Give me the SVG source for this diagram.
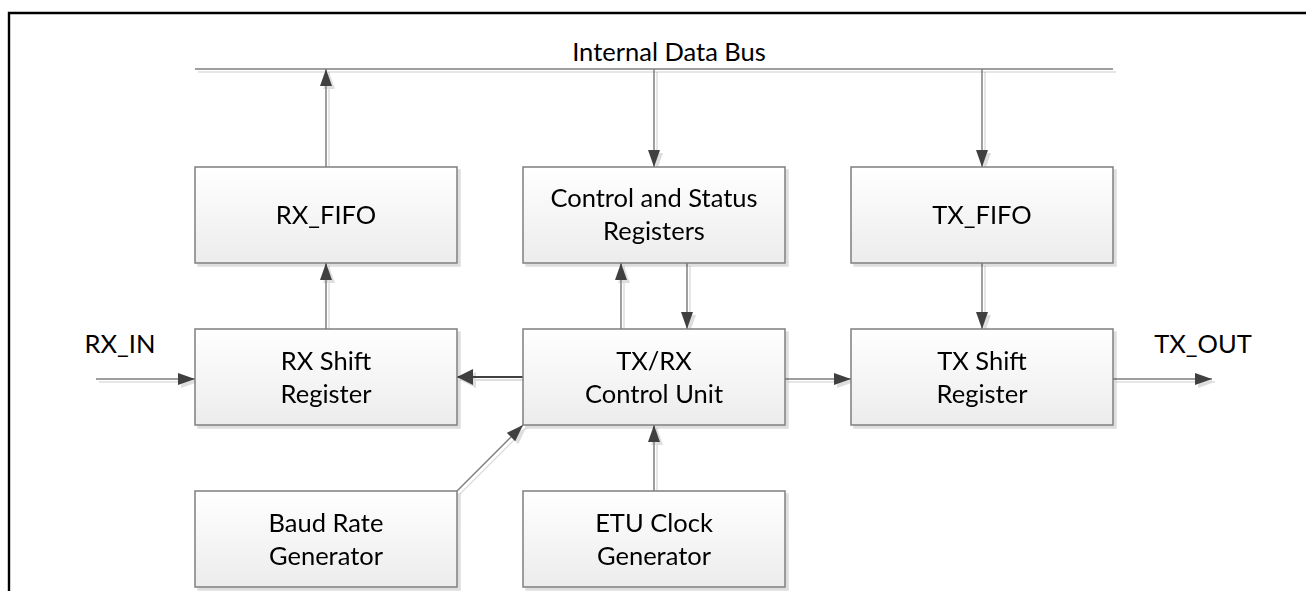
<svg xmlns="http://www.w3.org/2000/svg" width="1306" height="591" viewBox="0 0 1306 591">
  <style>
    .box { fill: url(#boxGrad); stroke: #7f7f7f; stroke-width: 1.5; }
    .lbl { font-family: Lato, "Liberation Sans", sans-serif; font-size: 25.5px; fill: #000; text-anchor: middle; }
    .con { fill: none; stroke: #7f7f7f; stroke-width: 1.5; }
    .conThick { fill: none; stroke: #404040; stroke-width: 2.2; }
  </style>
  <defs>
    <linearGradient id="boxGrad" x1="0" y1="0" x2="0" y2="1">
      <stop offset="0" stop-color="#ffffff"/>
      <stop offset="1" stop-color="#ececec"/>
    </linearGradient>
    <filter id="shadow" filterUnits="userSpaceOnUse" x="0" y="0" width="1306" height="591">
      <feDropShadow dx="3" dy="3" stdDeviation="0.6" flood-color="#000" flood-opacity="0.13"/>
    </filter>
    <marker id="arr" markerUnits="userSpaceOnUse" markerWidth="18" markerHeight="12" refX="17" refY="6" orient="auto">
      <path d="M0,0 L17,6 L0,12 Z" fill="#404040"/>
    </marker>
    <marker id="arrBig" markerUnits="userSpaceOnUse" markerWidth="18" markerHeight="16" refX="16" refY="8" orient="auto">
      <path d="M0,0 L16,8 L0,16 Z" fill="#404040"/>
    </marker>
  </defs>

  <rect width="1306" height="591" fill="#ffffff"/>
  <path d="M1306,13 L9,13 L9,591" fill="none" stroke="#000" stroke-width="2.4"/>

  <g id="bus" filter="url(#shadow)">
    <line x1="195" y1="69" x2="1113" y2="69" stroke="#7f7f7f" stroke-width="1.5"/>
  </g>
  <text class="lbl" x="669" y="61">Internal Data Bus</text>

  <g id="connectors" filter="url(#shadow)">
    <line class="con" x1="326" y1="167" x2="326" y2="69" marker-end="url(#arr)"/>
    <line class="con" x1="654" y1="69" x2="654" y2="167" marker-end="url(#arr)"/>
    <line class="con" x1="982" y1="69" x2="982" y2="167" marker-end="url(#arr)"/>
    <line class="con" x1="326" y1="329" x2="326" y2="263" marker-end="url(#arr)"/>
    <line class="con" x1="621" y1="329" x2="621" y2="263" marker-end="url(#arr)"/>
    <line class="con" x1="687" y1="263" x2="687" y2="329" marker-end="url(#arr)"/>
    <line class="con" x1="982" y1="263" x2="982" y2="329" marker-end="url(#arr)"/>
    <line class="conThick" x1="523" y1="377" x2="457" y2="377" marker-end="url(#arrBig)"/>
    <line class="con" x1="785" y1="379" x2="851" y2="379" marker-end="url(#arr)"/>
    <line class="con" x1="96" y1="379" x2="195" y2="379" marker-end="url(#arr)"/>
    <line class="con" x1="1113" y1="379" x2="1212" y2="379" marker-end="url(#arr)"/>
    <line class="con" x1="457" y1="491" x2="523" y2="425" marker-end="url(#arr)"/>
    <line class="con" x1="654" y1="491" x2="654" y2="425" marker-end="url(#arr)"/>
  </g>

  <text class="lbl" x="120" y="353">RX_IN</text>
  <text class="lbl" x="1203" y="353">TX_OUT</text>

  <g id="rx_fifo" filter="url(#shadow)">
    <rect class="box" x="195" y="167" width="262" height="96"/>
    <text class="lbl" x="326" y="224">RX_FIFO</text>
  </g>
  <g id="csr" filter="url(#shadow)">
    <rect class="box" x="523" y="167" width="262" height="96"/>
    <text class="lbl" x="654" y="207">Control and Status</text>
    <text class="lbl" x="654" y="240">Registers</text>
  </g>
  <g id="tx_fifo" filter="url(#shadow)">
    <rect class="box" x="851" y="167" width="262" height="96"/>
    <text class="lbl" x="982" y="224">TX_FIFO</text>
  </g>
  <g id="rx_shift" filter="url(#shadow)">
    <rect class="box" x="195" y="329" width="262" height="96"/>
    <text class="lbl" x="326" y="370">RX Shift</text>
    <text class="lbl" x="326" y="403">Register</text>
  </g>
  <g id="txrx_ctrl" filter="url(#shadow)">
    <rect class="box" x="523" y="329" width="262" height="96"/>
    <text class="lbl" x="654" y="370">TX/RX</text>
    <text class="lbl" x="654" y="403">Control Unit</text>
  </g>
  <g id="tx_shift" filter="url(#shadow)">
    <rect class="box" x="851" y="329" width="262" height="96"/>
    <text class="lbl" x="982" y="370">TX Shift</text>
    <text class="lbl" x="982" y="403">Register</text>
  </g>
  <g id="baud" filter="url(#shadow)">
    <rect class="box" x="195" y="491" width="262" height="96"/>
    <text class="lbl" x="326" y="532">Baud Rate</text>
    <text class="lbl" x="326" y="565">Generator</text>
  </g>
  <g id="etu" filter="url(#shadow)">
    <rect class="box" x="523" y="491" width="262" height="96"/>
    <text class="lbl" x="654" y="532">ETU Clock</text>
    <text class="lbl" x="654" y="565">Generator</text>
  </g>
</svg>
